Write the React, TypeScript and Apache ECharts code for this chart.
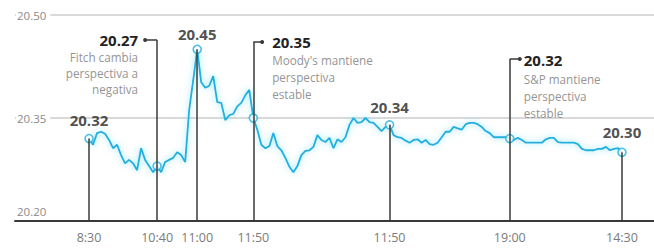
import React, { useEffect, useRef } from "react";
import * as echarts from "echarts";

// Exchange rate readings (one every few minutes)
const prices = [
  20.32, 20.311, 20.328, 20.33, 20.327, 20.318, 20.306, 20.311, 20.296, 20.284,
  20.289, 20.284, 20.274, 20.306, 20.289, 20.28, 20.271, 20.28, 20.271, 20.286,
  20.289, 20.292, 20.3, 20.296, 20.286, 20.362, 20.405, 20.45, 20.402, 20.394,
  20.397, 20.411, 20.373, 20.372, 20.347, 20.354, 20.356, 20.367, 20.372, 20.383,
  20.391, 20.35, 20.333, 20.311, 20.306, 20.309, 20.328, 20.309, 20.303, 20.292,
  20.279, 20.271, 20.28, 20.296, 20.302, 20.303, 20.308, 20.325, 20.318, 20.315,
  20.321, 20.306, 20.319, 20.315, 20.322, 20.34, 20.35, 20.343, 20.344, 20.35,
  20.344, 20.343, 20.337, 20.331, 20.337, 20.34, 20.325, 20.322, 20.321, 20.317,
  20.314, 20.318, 20.319, 20.314, 20.318, 20.312, 20.311, 20.314, 20.322, 20.33,
  20.33, 20.337, 20.335, 20.333, 20.341, 20.343, 20.343, 20.341, 20.337, 20.331,
  20.328, 20.322, 20.322, 20.322, 20.322, 20.32, 20.318, 20.321, 20.318, 20.314,
  20.314, 20.314, 20.314, 20.314, 20.319, 20.321, 20.321, 20.315, 20.314, 20.314,
  20.314, 20.314, 20.312, 20.305, 20.303, 20.303, 20.303, 20.305, 20.305, 20.308,
  20.303, 20.305, 20.306, 20.3,
];

// Event points (index into prices), their time labels and value labels
const eventIdx = [0, 17, 27, 41, 75, 105, 133];
const tickLabels = ["8:30", "10:40", "11:00", "11:50", "11:50", "19:00", "14:30"];
const eventLabels = ["20.32", "20.27", "20.45", "20.35", "20.34", "20.32", "20.30"];

// Notes attached to some events
const noteEvents = [1, 3, 5];
const noteTexts = [
  ["Fitch cambia", "perspectiva a", "negativa"],
  ["Moody's mantiene", "perspectiva", "estable"],
  ["S&P mantiene", "perspectiva", "estable"],
];

const yMin = 20.2;
const yMax = 20.5;
const yStep = 0.15;

const CYAN = "#22afdd";
const DARK = "#3a3a3a";
const FONT = "Open Sans";

// layout of the note connectors (value height, end index, side, label offset)
const noteLayout = [
  { top: 20.4636, end: 14, side: "right", pos: [-5, -7], vlh: 18, dlh: 16 },
  { top: 20.4607, end: 43.2, side: "left", pos: [12, -7], vlh: 19, dlh: 17 },
  { top: 20.436, end: 107.5, side: "left", pos: [6, -7], vlh: 21, dlh: 17 },
];
const labelDist = [6, 0, 3, 0, 5, 0, 8];

export default function App() {
  const ref = useRef<HTMLDivElement>(null);

  useEffect(() => {
    if (!ref.current) return;
    const chart = echarts.init(ref.current, undefined, { renderer: "svg" });

    const segments: any[] = [];
    eventIdx.forEach((idx, k) => {
      const n = noteEvents.indexOf(k);
      const topV = n >= 0 ? noteLayout[n].top : prices[idx];
      segments.push([{ coord: [idx, yMin] }, { coord: [idx, topV] }]);
      if (n >= 0) {
        segments.push([{ coord: [idx, topV] }, { coord: [noteLayout[n].end, topV] }]);
      }
    });

    const markPoints = noteEvents.map((k, n) => {
      const L = noteLayout[n];
      return {
        coord: [L.end, L.top],
        symbol: "circle",
        symbolSize: 4,
        itemStyle: { color: DARK },
        label: {
          show: true,
          position: L.pos,
          align: L.side,
          verticalAlign: "top",
          formatter: `{v|${eventLabels[k]}}\n` + noteTexts[n].map((t) => `{d|${t}}`).join("\n"),
          rich: {
            v: { fontFamily: FONT, fontSize: 15, fontWeight: "bold", color: "#222", lineHeight: L.vlh, align: L.side },
            d: { fontFamily: FONT, fontSize: 11.7, color: "#959595", lineHeight: L.dlh, align: L.side },
          },
        },
      };
    });

    const option: any = {
      animation: false,
      backgroundColor: "#ffffff",
      textStyle: { fontFamily: FONT },
      grid: { left: 15, right: 0, top: 15, bottom: 30 },
      xAxis: {
        type: "value",
        min: -18.47,
        max: 140.99,
        splitLine: { show: false },
        axisTick: { show: false },
        axisLine: { show: true, onZero: false, lineStyle: { color: DARK, width: 2 } },
        axisLabel: {
          customValues: eventIdx,
          formatter: (v: number) => tickLabels[eventIdx.indexOf(Math.round(v))] ?? "",
          color: "#7a7a7a",
          fontSize: 12.5,
          margin: 10,
          fontFamily: FONT,
        },
      },
      yAxis: {
        type: "value",
        min: yMin,
        max: yMax,
        interval: yStep,
        axisLine: { show: false },
        axisTick: { show: false },
        splitLine: { show: true, lineStyle: { color: "#cdcdcd", width: 1.5 } },
        axisLabel: {
          inside: true,
          margin: 1,
          formatter: (v: number) => {
            const s = v.toFixed(2);
            return Math.abs(v - yMin) < 1e-6 ? `{low|${s}}` : `{n|${s}}`;
          },
          rich: {
            n: { backgroundColor: "#fff", padding: [2, 4, 2, 1], color: "#8a8a8a", fontSize: 11.5, fontFamily: FONT },
            low: { padding: [0, 4, 20, 1], color: "#8a8a8a", fontSize: 11.5, fontFamily: FONT },
          },
        },
      },
      series: [
        {
          name: "stems",
          type: "line",
          data: eventIdx.map((idx) => [idx, prices[idx]]),
          showSymbol: false,
          symbol: "none",
          lineStyle: { opacity: 0 },
          silent: true,
          z: 1,
          markLine: {
            silent: true,
            symbol: ["none", "none"],
            lineStyle: { color: DARK, width: 1.5, type: "solid" },
            label: { show: false },
            emphasis: { disabled: true },
            data: segments,
          },
        },
        {
          name: "rate",
          type: "line",
          data: prices.map((v, i) => [i, v]),
          showSymbol: false,
          symbol: "none",
          lineStyle: {
            color: CYAN,
            width: 1.8,
            shadowColor: "rgba(90,215,245,0.8)",
            shadowBlur: 6,
          },
          silent: true,
          z: 3,
        },
        {
          name: "events",
          type: "scatter",
          z: 4,
          silent: true,
          symbol: "circle",
          symbolSize: 8,
          itemStyle: { color: "#fff", borderColor: CYAN, borderWidth: 1.6 },
          data: eventIdx.map((idx, k) => ({
            value: [idx, prices[idx]],
            label: {
              show: noteEvents.indexOf(k) < 0,
              position: "top",
              distance: labelDist[k],
              formatter: eventLabels[k],
              fontFamily: FONT,
              fontSize: 15,
              fontWeight: "bold",
              color: "#222",
              lineHeight: 16,
            },
          })),
          markPoint: {
            silent: true,
            data: markPoints,
          },
        },
      ],
    };

    chart.setOption(option);
    return () => chart.dispose();
  }, []);

  return (
    <div
      ref={ref}
      style={{ position: "fixed", left: 0, top: 0, width: 654, height: 251, background: "#fff" }}
    />
  );
}
